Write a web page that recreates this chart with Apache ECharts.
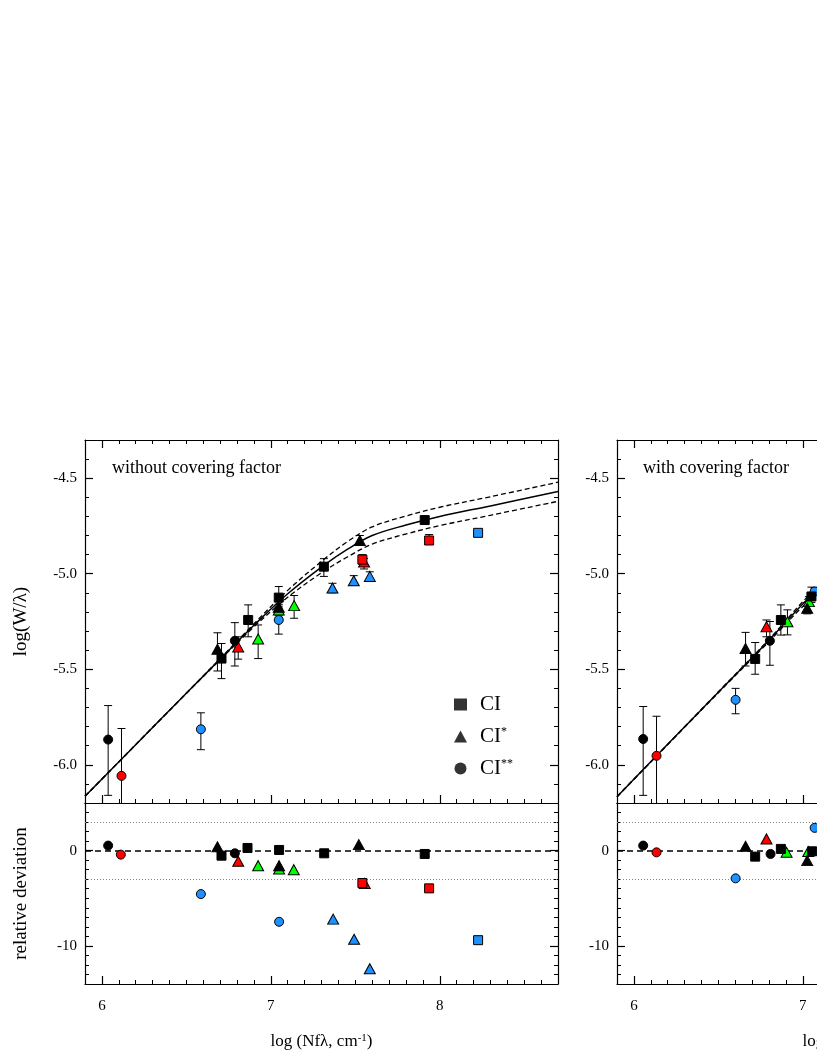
<!DOCTYPE html>
<html>
<head>
<meta charset="utf-8">
<title>Curve of growth CI</title>
<script src="https://cdn.jsdelivr.net/npm/echarts@6.0.0/dist/echarts.min.js"></script>
<style>
  html, body { margin: 0; padding: 0; background: #fff; }
  #chart { width: 817px; height: 1058px; }
</style>
</head>
<body>
<div id="chart"></div>
<script>
// ---- data: [log Nf lambda, log W/lambda, lower error, upper error] ----
// left panel: without covering factor
const woSqBlack = [[6.708, -5.444, -5.549, -5.365], [6.866, -5.242, -5.33, -5.163], [7.047, -5.125, -5.18, -5.067], [7.314, -4.963, -5.014, -4.921], [7.911, -4.719, -4.735, -4.705]];
const woSqRed = [[7.542, -4.926, -4.95, -4.9], [7.937, -4.826, -4.84, -4.795]];
const woSqBlue = [[8.227, -4.786, -4.786, -4.786]];
const woTriBlack = [[6.684, -5.395, -5.509, -5.309], [7.047, -5.175, -5.21, -5.14], [7.527, -4.826, -4.85, -4.80]];
const woTriRed = [[6.807, -5.383, -5.447, -5.33], [7.552, -4.939, -4.975, -4.92]];
const woTriGreen = [[6.925, -5.342, -5.444, -5.268], [7.047, -5.19, -5.22, -5.16], [7.138, -5.167, -5.233, -5.114]];
const woTriBlue = [[7.365, -5.075, -5.1, -5.05], [7.491, -5.037, -5.06, -5.01], [7.586, -5.014, -5.035, -4.99]];
const woCirBlack = [[6.037, -5.868, -6.16, -5.69], [6.787, -5.351, -5.483, -5.256]];
const woCirRed = [[6.116, -6.058, -6.3, -5.81]];
const woCirBlue = [[6.586, -5.814, -5.921, -5.728], [7.047, -5.242, -5.316, -5.17]];

// relative deviation, without covering factor
const woDevSqBlack = [[6.708, -0.53], [6.862, 0.28], [7.049, 0.07], [7.316, -0.28], [7.911, -0.35]];
const woDevSqRed = [[7.542, -3.4], [7.937, -3.96]];
const woDevSqBlue = [[8.227, -9.4]];
const woDevTriBlack = [[6.684, 0.4], [7.049, -1.58], [7.521, 0.63]];
const woDevTriRed = [[6.807, -1.12], [7.556, -3.44]];
const woDevTriGreen = [[6.925, -1.58], [7.049, -1.93], [7.136, -2.0]];
const woDevTriBlue = [[7.369, -7.19], [7.493, -9.3], [7.586, -12.39]];
const woDevCirBlack = [[6.037, 0.53], [6.787, -0.28]];
const woDevCirRed = [[6.112, -0.42]];
const woDevCirBlue = [[6.586, -4.56], [7.049, -7.47]];

// right panel: with covering factor
const wSqBlack = [[6.718, -5.446, -5.526, -5.36], [6.870, -5.242, -5.321, -5.163], [7.051, -5.119, -5.15, -5.07]];
const wTriBlack = [[6.661, -5.391, -5.483, -5.307], [7.026, -5.181, -5.21, -5.15]];
const wTriRed = [[6.785, -5.277, -5.33, -5.242]];
const wTriGreen = [[6.909, -5.251, -5.32, -5.189], [7.036, -5.146, -5.17, -5.12]];
const wCirBlack = [[6.055, -5.865, -6.16, -5.695], [6.805, -5.351, -5.479, -5.25]];
const wCirRed = [[6.134, -5.953, -6.3, -5.746]];
const wCirBlue = [[6.602, -5.66, -5.733, -5.6], [7.07, -5.093, -5.11, -5.075]];

const wDevSqBlack = [[6.718, -0.63], [6.87, 0.18], [7.055, -0.07]];
const wDevTriBlack = [[6.661, 0.46], [7.026, -1.05]];
const wDevTriRed = [[6.785, 1.23]];
const wDevTriGreen = [[6.904, -0.18], [7.032, -0.1]];
const wDevCirBlack = [[6.055, 0.53], [6.809, -0.35]];
const wDevCirRed = [[6.134, -0.18]];
const wDevCirBlue = [[6.602, -2.91], [7.07, 2.39]];

// fitted curves of growth
const woFit = [[5.9, -6.165], [6.3, -5.805], [6.7, -5.447], [6.9, -5.27], [7.1, -5.105], [7.3, -4.965], [7.45, -4.874], [7.6, -4.80], [7.8, -4.745], [8.0, -4.70], [8.3, -4.645], [8.7, -4.57]];
const woFitUp = [[5.9, -6.165], [6.3, -5.805], [6.7, -5.444], [6.9, -5.262], [7.1, -5.087], [7.3, -4.935], [7.45, -4.834], [7.6, -4.755], [7.8, -4.698], [8.0, -4.652], [8.3, -4.597], [8.7, -4.521]];
const woFitLow = [[5.9, -6.165], [6.3, -5.805], [6.7, -5.45], [6.9, -5.278], [7.1, -5.123], [7.3, -4.995], [7.45, -4.914], [7.6, -4.845], [7.8, -4.792], [8.0, -4.748], [8.3, -4.694], [8.7, -4.621]];
const wFit = [[5.9, -6.167], [6.2, -5.893], [6.5, -5.62], [6.8, -5.348], [7.0, -5.158], [7.2, -4.99]];
const wFitUp = [[5.9, -6.167], [6.5, -5.618], [6.8, -5.343], [7.0, -5.146], [7.2, -4.968]];
const wFitLow = [[5.9, -6.167], [6.5, -5.623], [6.8, -5.355], [7.0, -5.172], [7.2, -5.018]];

const xMajor = [6, 7, 8];
const yTopMajor = [-6.0, -5.5, -5.0, -4.5];
const yDevMajor = [-10, 0];
const legendNames = ['CI', 'CI*', 'CI**'];

// ---- styling ----
const FONT = "'Liberation Serif', 'Times New Roman', serif";
const BLUE = '#1E90FF', RED = '#FF0000', GREEN = '#00FF00', BLACK = '#000000';

const grids = [
  { left: 85, top: 440, width: 473, height: 363, outerBoundsMode: 'none' },
  { left: 85, top: 803, width: 473, height: 181, outerBoundsMode: 'none' },
  { left: 617, top: 440, width: 473, height: 363, outerBoundsMode: 'none' },
  { left: 617, top: 803, width: 473, height: 181, outerBoundsMode: 'none' }
];

function steps(min, max, step) {
  const out = [];
  const n = Math.round((max - min) / step);
  for (let i = 0; i <= n; i++) out.push(+(min + i * step).toFixed(4));
  return out;
}

const xAxes = [], yAxes = [];
const xIdx = [], yIdx = [];

// one major + one minor axis per side, ticks pointing inward
function addSide(list, grid, pos, min, max, majors, minorStep, extra, noTicks) {
  const major = {
    type: 'value', gridIndex: grid, position: pos, min: min, max: max,
    axisLine: { show: true, onZero: false, lineStyle: { color: '#000', width: 1.2 } },
    axisTick: { show: !noTicks, inside: true, length: 8, customValues: majors, lineStyle: { color: '#000', width: 1.2 } },
    axisLabel: { show: false },
    splitLine: { show: false }
  };
  Object.assign(major, extra || {});
  list.push(major);
  const idx = list.length - 1;
  if (!noTicks) {
    list.push({
      type: 'value', gridIndex: grid, position: pos, min: min, max: max,
      axisLine: { show: false, onZero: false },
      axisTick: { show: true, inside: true, length: 4, customValues: steps(min, max, minorStep), lineStyle: { color: '#000', width: 1 } },
      axisLabel: { show: false },
      splitLine: { show: false }
    });
  }
  return idx;
}

const tickFont = { show: true, fontFamily: FONT, fontSize: 15, color: '#000' };
const xName = {
  name: 'log (Nfλ, cm{s|-1})', nameLocation: 'middle', nameGap: 49,
  nameTextStyle: { fontFamily: FONT, fontSize: 17, color: '#000', rich: { s: { fontFamily: FONT, fontSize: 11, verticalAlign: 'top', color: '#000' } } }
};

grids.forEach(function (g, i) {
  const isDev = (i % 2 === 1);
  const isLeft = i < 2;
  xIdx[i] = addSide(xAxes, i, 'bottom', 5.9, 8.7, xMajor, 0.1, isDev ? Object.assign({
    axisLabel: Object.assign({ customValues: xMajor, margin: 15 }, tickFont)
  }, xName) : {});
  addSide(xAxes, i, 'top', 5.9, 8.7, xMajor, 0.1, null, isDev);
  const yMin = isDev ? -14 : -6.2, yMax = isDev ? 5 : -4.3;
  const yMaj = isDev ? yDevMajor : yTopMajor;
  const yExtra = {
    axisLabel: Object.assign({
      customValues: yMaj, margin: 8,
      formatter: function (v) { return isDev ? String(Math.round(v)) : v.toFixed(1); }
    }, tickFont)
  };
  if (isLeft) {
    yExtra.name = isDev ? 'relative deviation' : 'log(W/λ)';
    yExtra.nameLocation = 'middle';
    yExtra.nameGap = 54;
    yExtra.nameTextStyle = { fontFamily: FONT, fontSize: 19, color: '#000' };
  }
  yIdx[i] = addSide(yAxes, i, 'left', yMin, yMax, yMaj, isDev ? 1 : 0.1, yExtra);
  addSide(yAxes, i, 'right', yMin, yMax, yMaj, isDev ? 1 : 0.1);
});

const SIZES = { rect: 9, circle: 9, triangle: [11, 10] };

function points(name, data, grid, symbol, color) {
  return {
    type: 'scatter', name: name, xAxisIndex: xIdx[grid], yAxisIndex: yIdx[grid],
    data: data.map(function (d) { return [d[0], d[1]]; }),
    symbol: symbol, symbolSize: SIZES[symbol],
    itemStyle: { color: color, borderColor: '#000', borderWidth: 1, opacity: 1 },
    z: 5, silent: true
  };
}

function errorBars(data, grid) {
  return {
    type: 'custom', xAxisIndex: xIdx[grid], yAxisIndex: yIdx[grid], clip: true, silent: true, z: 3,
    data: data,
    renderItem: function (params, api) {
      const x = api.value(0);
      const hi = api.coord([x, api.value(3)]);
      const lo = api.coord([x, api.value(2)]);
      const c = 4;
      const st = { stroke: '#000', lineWidth: 1 };
      return {
        type: 'group', children: [
          { type: 'line', shape: { x1: hi[0], y1: hi[1], x2: lo[0], y2: lo[1] }, style: st },
          { type: 'line', shape: { x1: hi[0] - c, y1: hi[1], x2: hi[0] + c, y2: hi[1] }, style: st },
          { type: 'line', shape: { x1: lo[0] - c, y1: lo[1], x2: lo[0] + c, y2: lo[1] }, style: st }
        ]
      };
    }
  };
}

function curve(data, grid, dashed) {
  return {
    type: 'line', xAxisIndex: xIdx[grid], yAxisIndex: yIdx[grid], data: data,
    smooth: 0.35, symbol: 'none', silent: true, z: 2, clip: true,
    lineStyle: dashed ? { color: '#000', width: 1.3, type: [5, 3] } : { color: '#000', width: 1.5 }
  };
}

function refLines(grid) {
  return {
    type: 'line', xAxisIndex: xIdx[grid], yAxisIndex: yIdx[grid], data: [], silent: true, z: 1,
    markLine: {
      silent: true, symbol: 'none', label: { show: false }, animation: false,
      data: [
        { yAxis: 0, lineStyle: { color: '#000', width: 1.5, type: [6, 4] } },
        { yAxis: 3, lineStyle: { color: '#888', width: 1, type: [1, 2] } },
        { yAxis: -3, lineStyle: { color: '#888', width: 1, type: [1, 2] } }
      ]
    }
  };
}

const series = [];
// fits
series.push(curve(woFit, 0, false), curve(woFitUp, 0, true), curve(woFitLow, 0, true));
series.push(curve(wFit, 2, false), curve(wFitUp, 2, true), curve(wFitLow, 2, true));
series.push(refLines(1), refLines(3));

// top panels: error bars then markers
const topSets = [
  [woCirBlue, 0, 'circle', BLUE], [woTriBlue, 0, 'triangle', BLUE], [woSqBlue, 0, 'rect', BLUE],
  [woTriGreen, 0, 'triangle', GREEN], [woCirRed, 0, 'circle', RED], [woTriRed, 0, 'triangle', RED], [woSqRed, 0, 'rect', RED],
  [woCirBlack, 0, 'circle', BLACK], [woTriBlack, 0, 'triangle', BLACK], [woSqBlack, 0, 'rect', BLACK],
  [wCirBlue, 2, 'circle', BLUE], [wTriGreen, 2, 'triangle', GREEN], [wCirRed, 2, 'circle', RED], [wTriRed, 2, 'triangle', RED],
  [wCirBlack, 2, 'circle', BLACK], [wTriBlack, 2, 'triangle', BLACK], [wSqBlack, 2, 'rect', BLACK]
];
topSets.forEach(function (s) { series.push(errorBars(s[0], s[1])); });
topSets.forEach(function (s, k) { series.push(points('top' + k, s[0], s[1], s[2], s[3])); });

const devSets = [
  [woDevCirBlue, 1, 'circle', BLUE], [woDevTriBlue, 1, 'triangle', BLUE], [woDevSqBlue, 1, 'rect', BLUE],
  [woDevTriGreen, 1, 'triangle', GREEN], [woDevCirRed, 1, 'circle', RED], [woDevTriRed, 1, 'triangle', RED], [woDevSqRed, 1, 'rect', RED],
  [woDevCirBlack, 1, 'circle', BLACK], [woDevTriBlack, 1, 'triangle', BLACK], [woDevSqBlack, 1, 'rect', BLACK],
  [wDevCirBlue, 3, 'circle', BLUE], [wDevTriGreen, 3, 'triangle', GREEN], [wDevCirRed, 3, 'circle', RED], [wDevTriRed, 3, 'triangle', RED],
  [wDevCirBlack, 3, 'circle', BLACK], [wDevTriBlack, 3, 'triangle', BLACK], [wDevSqBlack, 3, 'rect', BLACK]
];
devSets.forEach(function (s, k) { series.push(points('dev' + k, s[0], s[1], s[2], s[3])); });

// legend-only series
const legendIcons = ['rect', 'triangle', 'circle'];
legendNames.forEach(function (n, k) {
  series.push({ type: 'scatter', name: n, xAxisIndex: xIdx[0], yAxisIndex: yIdx[0], data: [], symbol: legendIcons[k], itemStyle: { color: '#000' } });
});

const chart = echarts.init(document.getElementById('chart'), null, { renderer: 'canvas' });
chart.setOption({
  animation: false,
  backgroundColor: '#fff',
  grid: grids,
  xAxis: xAxes,
  yAxis: yAxes,
  legend: {
    orient: 'vertical', left: 449, top: 689, itemWidth: 13, itemHeight: 12, itemGap: 11,
    selectedMode: false,
    data: legendNames.map(function (n, k) { return { name: n, icon: legendIcons[k] }; }),
    formatter: function (n) { const st = n.slice(2); return 'CI' + (st ? '{s|' + st + '}' : ''); },
    textStyle: {
      fontFamily: FONT, fontSize: 21, color: '#000', padding: [0, 0, 0, 8],
      rich: { s: { fontFamily: FONT, fontSize: 12, color: '#000', verticalAlign: 'top', padding: [0, 0, 8, 0] } }
    }
  },
  graphic: [
    { type: 'text', left: 112, top: 459, style: { text: 'without covering factor', font: '18px ' + FONT, fill: '#000' } },
    { type: 'text', left: 643, top: 459, style: { text: 'with covering factor', font: '18px ' + FONT, fill: '#000' } }
  ],
  series: series
});
</script>
</body>
</html>
